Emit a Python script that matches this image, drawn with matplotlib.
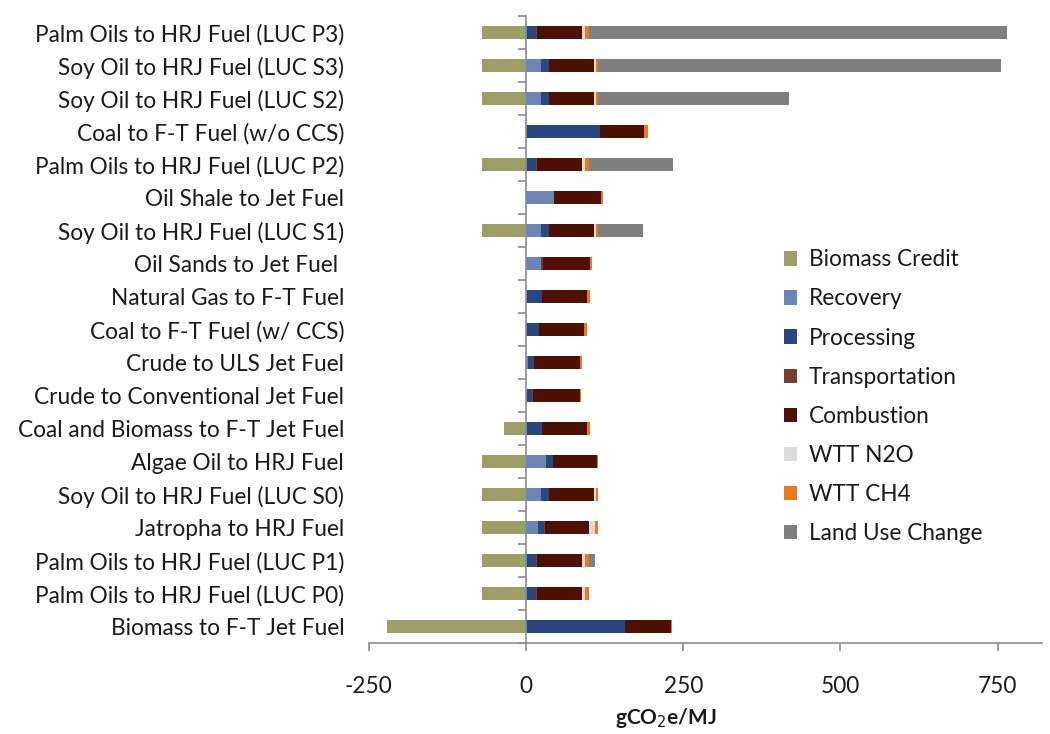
import numpy as np
import matplotlib.pyplot as plt
from matplotlib.ticker import FixedLocator

plt.rcParams['font.family'] = ['Lato', 'DejaVu Sans']
plt.rcParams['axes.unicode_minus'] = False

pathways = [
    "Palm Oils to HRJ Fuel (LUC P3)",
    "Soy Oil to HRJ Fuel (LUC S3)",
    "Soy Oil to HRJ Fuel (LUC S2)",
    "Coal to F-T Fuel (w/o CCS)",
    "Palm Oils to HRJ Fuel (LUC P2)",
    "Oil Shale to Jet Fuel",
    "Soy Oil to HRJ Fuel (LUC S1)",
    "Oil Sands to Jet Fuel ",
    "Natural Gas to F-T Fuel",
    "Coal to F-T Fuel (w/ CCS)",
    "Crude to ULS Jet Fuel",
    "Crude to Conventional Jet Fuel",
    "Coal and Biomass to F-T Jet Fuel",
    "Algae Oil to HRJ Fuel",
    "Soy Oil to HRJ Fuel (LUC S0)",
    "Jatropha to HRJ Fuel",
    "Palm Oils to HRJ Fuel (LUC P1)",
    "Palm Oils to HRJ Fuel (LUC P0)",
    "Biomass to F-T Jet Fuel",
]

# gCO2e/MJ, same order as pathways (top to bottom)
biomass_credit = [-70, -70, -70, 0, -70, 0, -70, 0, 0, 0, 0, 0, -35, -70, -70, -70, -70, -70, -221]
recovery =       [0, 24, 24, 0, 0, 44, 24, 24, 1, 0, 3, 2, 0, 32, 24, 19, 0, 0, 0]
processing =     [16, 12, 12, 118, 16, 1, 12, 2, 24, 20, 9, 7, 26, 10, 12, 10, 16, 16, 158]
transportation = [1, 1, 1, 0, 1, 0, 1, 1, 0, 0, 1, 2, 0, 1, 1, 1, 1, 1, 0]
combustion =     [72, 71, 71, 70, 72, 74, 71, 74, 72, 72, 73, 74, 71, 70, 71, 70, 72, 72, 72]
wtt_n2o =        [4, 3, 3, 0, 4, 0, 3, 0, 0, 0, 0, 0, 0, 0, 3, 10, 4, 4, 0]
wtt_ch4 =        [7, 3, 3, 6, 7, 3, 3, 3, 4, 5, 3, 2, 4, 2, 4, 4, 7, 7, 2]
land_use_change = [665, 641, 304, 0, 133, 0, 72, 0, 0, 0, 0, 0, 0, 0, 0, 0, 9, 0, 0]

positive = [
    ("Recovery", recovery, "#6c84b6"),
    ("Processing", processing, "#2a4680"),
    ("Transportation", transportation, "#7b3b2f"),
    ("Combustion", combustion, "#4e1002"),
    ("WTT N2O", wtt_n2o, "#dcddd5"),
    ("WTT CH4", wtt_ch4, "#ec7a1c"),
    ("Land Use Change", land_use_change, "#7f7f7f"),
]

y = np.arange(len(pathways))[::-1]

fig = plt.figure(figsize=(10.5, 7.34), dpi=100)
ax = fig.add_axes([0.3514, 0.124, 0.6406, 0.854])

ax.barh(y, biomass_credit, height=0.4, color="#9d9e66", label="Biomass Credit")
left = np.zeros(len(pathways))
for name, vals, col in positive:
    ax.barh(y, vals, left=left, height=0.4, color=col, label=name)
    left += np.array(vals)

ax.set_xlim(-250, 820)
ax.set_ylim(-0.5, len(pathways) - 0.5)
ax.set_xticks([-250, 0, 250, 500, 750])
ax.set_yticks(y)
ax.set_yticklabels(pathways)
ax.yaxis.set_minor_locator(FixedLocator(np.arange(len(pathways) + 1) - 0.5))

ax.spines["left"].set_position(("data", 0))
for s in ["top", "right"]:
    ax.spines[s].set_visible(False)
for s in ["left", "bottom"]:
    ax.spines[s].set_color("#8c8c8c")
    ax.spines[s].set_linewidth(1.2)

ax.tick_params(axis="y", which="major", length=0, pad=131, labelsize=16.3, labelcolor="#1a1a1a")
ax.tick_params(axis="y", which="minor", length=6, width=1.2, color="#8c8c8c")
ax.tick_params(axis="x", length=6, width=1.2, color="#8c8c8c", labelsize=16.3,
               labelcolor="#1a1a1a", pad=18)
ax.set_xlabel("gCO$_2$e/MJ", fontsize=15, fontweight="bold", color="#1a1a1a", labelpad=6)
ax.xaxis.label.set_x(0.442)

ax.legend(loc="upper left", bbox_to_anchor=(0.727, 0.688), bbox_transform=fig.transFigure,
          frameon=False, fontsize=16.3, handlelength=0.6, handleheight=0.6,
          handletextpad=0.5, labelspacing=0.8, labelcolor="#1a1a1a")

fig.savefig("out.png", dpi=100)
